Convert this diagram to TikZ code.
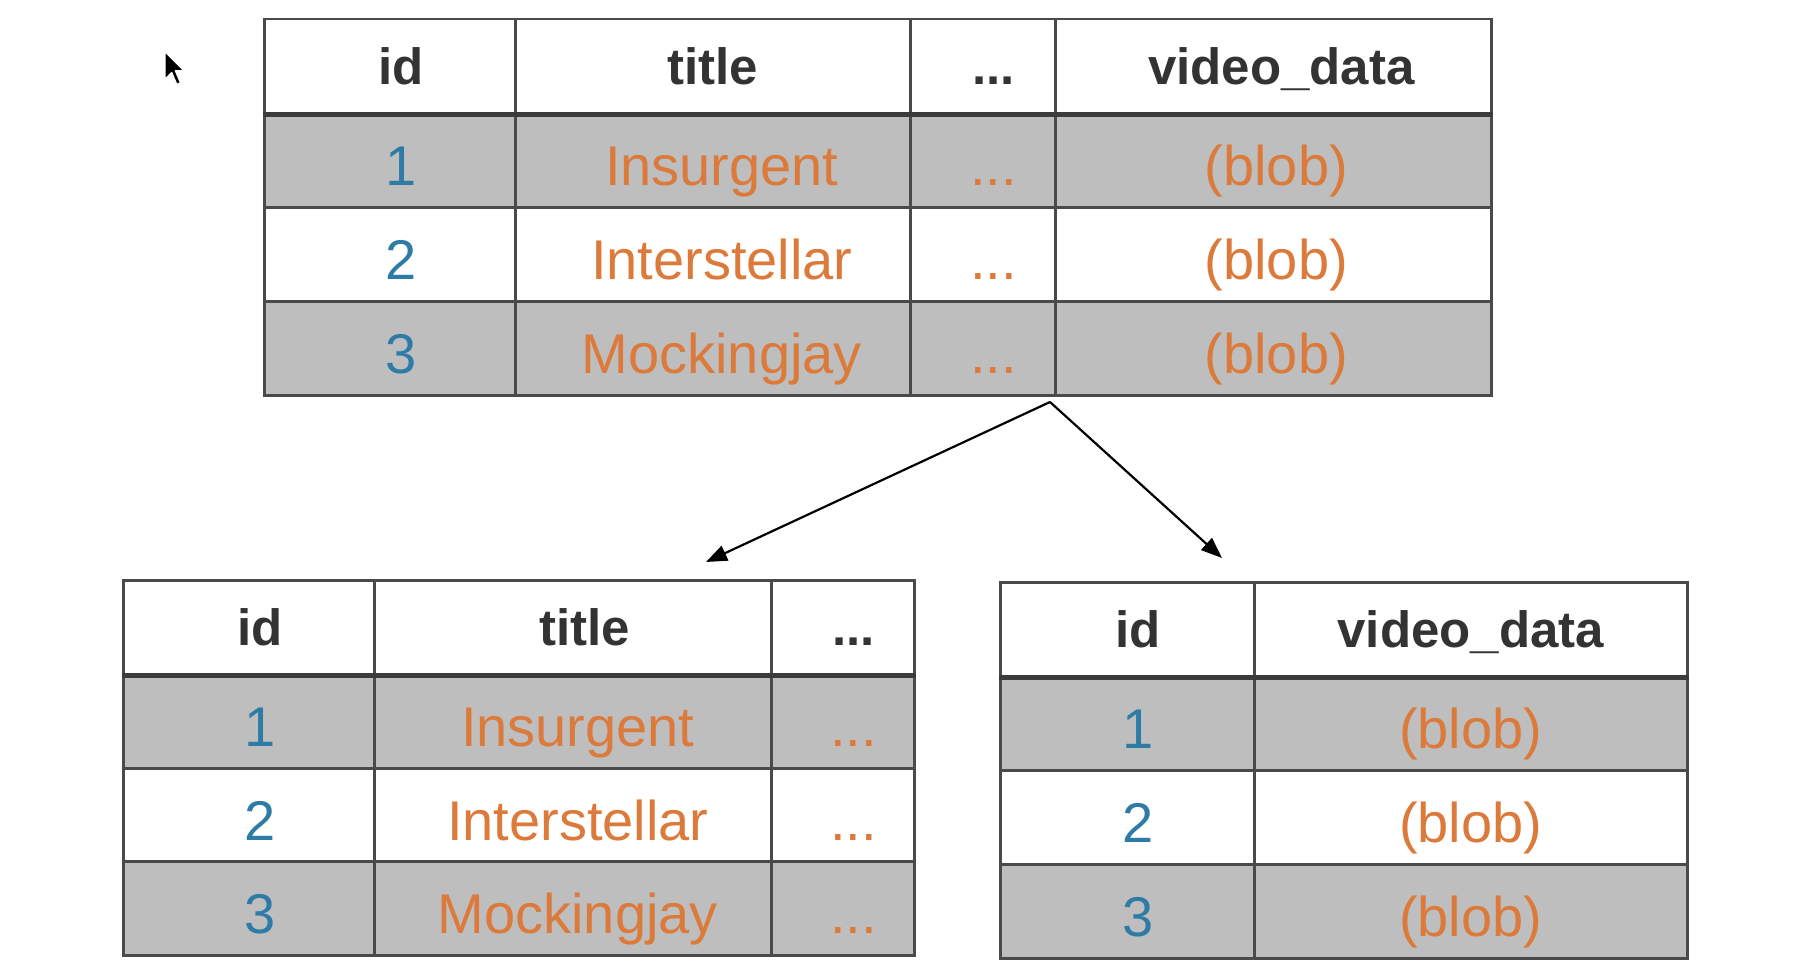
\documentclass[tikz,border=0pt]{standalone}
\usepackage{fontspec}
\setmainfont{Liberation Sans}
\usetikzlibrary{arrows.meta,positioning}
\definecolor{rowgray}{HTML}{BEBEBE}
\definecolor{rulegray}{HTML}{4A4A4A}
\definecolor{headtext}{HTML}{333333}
\definecolor{idblue}{HTML}{2E7BA6}
\definecolor{filmorange}{HTML}{DB7A3A}
\tikzset{
	cell/.style={draw=rulegray,line width=2.5pt,rectangle,anchor=north west,inner sep=0pt,minimum height=94pt},
	head/.style={cell,fill=white,text=headtext,font=\fontsize{51pt}{51pt}\selectfont\bfseries,text height=36.5pt,text depth=0pt},
	entry/.style={cell,font=\fontsize{56pt}{56pt}\selectfont,text height=50pt,text depth=0pt},
	num/.style={entry,text=idblue},
	film/.style={entry,text=filmorange},
	nudge/.style={execute at begin node={\hspace*{#1}}},
	headrule/.style={draw=rulegray!80!black,line width=5pt},
	link/.style={-{Triangle[length=21pt,width=16pt]},line width=2.2pt,black},
	pointer/.style={fill=black,draw=white,line width=1pt,line join=round}
}

\begin{document}
\begin{tikzpicture}[x=1pt,y=-1pt]
		\useasboundingbox (0,0) rectangle (1816,979);
		\fill[pointer,shift={(165,52)}] (0,0) -- (0,27) -- (6.8,20.4) -- (11.9,32.3) -- (15.3,30.6) -- (10.2,18.7) -- (18.7,18.7) -- cycle;
		
		% videos
		\node[head,nudge=22pt,minimum width=251pt] (v-id) at (263,18) {id};
		\node[head,minimum width=395pt] (v-title) at (514,18) {title};
		\node[head,nudge=22pt,minimum width=145pt] (v-etc) at (909,18) {...};
		\node[head,nudge=16pt,minimum width=436pt] (v-data) at (1054,18) {video\_data};
		\foreach \r/\y/\bg/\name in {1/112/rowgray/Insurgent,2/206/white/Interstellar,3/300/rowgray/Mockingjay}{
			\node[num,nudge=22pt,fill=\bg,minimum width=251pt] (v-id\r) at (263,\y) {\r};
			\node[film,nudge=18pt,fill=\bg,minimum width=395pt] (v-title\r) at (514,\y) {\name};
			\node[film,nudge=22pt,fill=\bg,minimum width=145pt] (v-etc\r) at (909,\y) {...};
			\node[film,nudge=6pt,fill=\bg,minimum width=436pt] (v-data\r) at (1054,\y) {(blob)};
		}
		\draw[headrule] (v-id.south west) -- (v-data.south east);
		
		% video info
		\node[head,nudge=22pt,minimum width=251pt] (i-id) at (122,579) {id};
		\node[head,nudge=24pt,minimum width=397pt] (i-title) at (373,579) {title};
		\node[head,nudge=22pt,minimum width=143pt] (i-etc) at (770,579) {...};
		\foreach \r/\y/\bg/\name in {1/673/rowgray/Insurgent,2/767/white/Interstellar,3/860/rowgray/Mockingjay}{
			\node[num,nudge=22pt,fill=\bg,minimum width=251pt] (i-id\r) at (122,\y) {\r};
			\node[film,nudge=10pt,fill=\bg,minimum width=397pt] (i-title\r) at (373,\y) {\name};
			\node[film,nudge=22pt,fill=\bg,minimum width=143pt] (i-etc\r) at (770,\y) {...};
		}
		\draw[headrule] (i-id.south west) -- (i-etc.south east);
		
		% video blobs
		\node[head,nudge=22pt,minimum width=254pt] (b-id) at (999,581) {id};
		\node[head,minimum width=433pt] (b-data) at (1253,581) {video\_data};
		\foreach \r/\y/\bg in {1/675/rowgray,2/769/white,3/863/rowgray}{
			\node[num,nudge=22pt,fill=\bg,minimum width=254pt] (b-id\r) at (999,\y) {\r};
			\node[film,fill=\bg,minimum width=433pt] (b-data\r) at (1253,\y) {(blob)};
		}
		\draw[headrule] (b-id.south west) -- (b-data.south east);
		
		\coordinate (split) at (1050,402);
		\coordinate (to-info) at (706,562);
		\coordinate (to-blobs) at (1222,558);
		\draw[link] (split) -- (to-info);
		\draw[link] (split) -- (to-blobs);
	\end{tikzpicture}
\end{document}
